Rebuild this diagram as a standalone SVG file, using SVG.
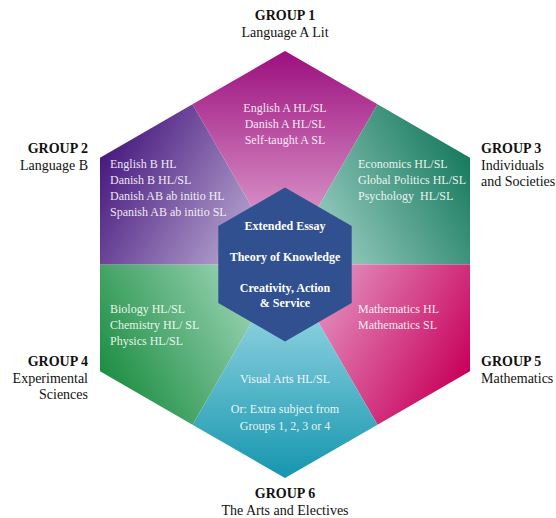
<svg xmlns="http://www.w3.org/2000/svg" width="556" height="518" viewBox="0 0 556 518">
<style>
.lbl{font-family:"Liberation Serif","Times New Roman",serif;font-size:14px;fill:#111}
.lblb{font-family:"Liberation Serif","Times New Roman",serif;font-size:14px;font-weight:bold;fill:#111}
.itm{font-family:"Liberation Serif","Times New Roman",serif;font-size:12px;fill:#fff;fill-opacity:0.9}
.core{font-family:"Liberation Serif","Times New Roman",serif;font-size:12px;font-weight:bold;fill:#fff}
</style>
<defs>
<linearGradient id="g1" gradientUnits="userSpaceOnUse" x1="285" y1="51" x2="285" y2="264.5"><stop offset="0" stop-color="#9c0f7e"/><stop offset="1" stop-color="#eab8dc"/></linearGradient>
<linearGradient id="g2" gradientUnits="userSpaceOnUse" x1="100" y1="157.7" x2="285" y2="264.5"><stop offset="0" stop-color="#48197f"/><stop offset="1" stop-color="#d0c6e2"/></linearGradient>
<linearGradient id="g3" gradientUnits="userSpaceOnUse" x1="470" y1="157.7" x2="285" y2="264.5"><stop offset="0" stop-color="#177a5e"/><stop offset="1" stop-color="#b8e0d8"/></linearGradient>
<linearGradient id="g4" gradientUnits="userSpaceOnUse" x1="100" y1="371.3" x2="285" y2="264.5"><stop offset="0" stop-color="#1d8e42"/><stop offset="1" stop-color="#b8e4d0"/></linearGradient>
<linearGradient id="g5" gradientUnits="userSpaceOnUse" x1="470" y1="371.3" x2="285" y2="264.5"><stop offset="0" stop-color="#c8005a"/><stop offset="1" stop-color="#eab4d8"/></linearGradient>
<linearGradient id="g6" gradientUnits="userSpaceOnUse" x1="285" y1="478" x2="285" y2="264.5"><stop offset="0" stop-color="#1596ae"/><stop offset="1" stop-color="#b0e2ee"/></linearGradient>
</defs>
<g id="group1">
<polygon points="285,264.5 192.5,104.3 285,50.9 377.5,104.3" fill="url(#g1)"/>
<text class="itm" text-anchor="middle" x="285" y="112">English A HL/SL</text>
<text class="itm" text-anchor="middle" x="285" y="128">Danish A HL/SL</text>
<text class="itm" text-anchor="middle" x="285" y="144">Self-taught A SL</text>
<text class="lblb" text-anchor="middle" x="285" y="20">GROUP 1</text>
<text class="lbl" text-anchor="middle" x="285" y="37">Language A Lit</text>
</g>
<g id="group3">
<polygon points="285,264.5 377.5,104.3 470,157.7 470,264.5" fill="url(#g3)"/>
<text class="itm" x="358" y="168">Economics HL/SL</text>
<text class="itm" x="358" y="184">Global Politics HL/SL</text>
<text class="itm" x="358" y="200" xml:space="preserve" style="white-space:pre">Psychology  HL/SL</text>
<text class="lblb" x="481" y="153">GROUP 3</text>
<text class="lbl" x="481" y="170">Individuals</text>
<text class="lbl" x="481" y="186">and Societies</text>
</g>
<g id="group5">
<polygon points="285,264.5 470,264.5 470,371.3 377.5,424.7" fill="url(#g5)"/>
<text class="itm" x="358" y="313">Mathematics HL</text>
<text class="itm" x="358" y="329">Mathematics SL</text>
<text class="lblb" x="481" y="366">GROUP 5</text>
<text class="lbl" x="481" y="383">Mathematics</text>
</g>
<g id="group6">
<polygon points="285,264.5 377.5,424.7 285,478.1 192.5,424.7" fill="url(#g6)"/>
<text class="itm" text-anchor="middle" x="285" y="383">Visual Arts HL/SL</text>
<text class="itm" text-anchor="middle" x="285" y="413">Or: Extra subject from</text>
<text class="itm" text-anchor="middle" x="285" y="430">Groups 1, 2, 3 or 4</text>
<text class="lblb" text-anchor="middle" x="285" y="498">GROUP 6</text>
<text class="lbl" text-anchor="middle" x="285" y="515">The Arts and Electives</text>
</g>
<g id="group4">
<polygon points="285,264.5 192.5,424.7 100,371.3 100,264.5" fill="url(#g4)"/>
<text class="itm" x="110" y="313">Biology HL/SL</text>
<text class="itm" x="110" y="329">Chemistry HL/ SL</text>
<text class="itm" x="110" y="345">Physics HL/SL</text>
<text class="lblb" text-anchor="end" x="88" y="366">GROUP 4</text>
<text class="lbl" text-anchor="end" x="88" y="383">Experimental</text>
<text class="lbl" text-anchor="end" x="88" y="399">Sciences</text>
</g>
<g id="group2">
<polygon points="285,264.5 100,264.5 100,157.7 192.5,104.3" fill="url(#g2)"/>
<text class="itm" x="110" y="168">English B HL</text>
<text class="itm" x="110" y="184">Danish B HL/SL</text>
<text class="itm" x="110" y="200">Danish AB ab initio HL</text>
<text class="itm" x="110" y="216">Spanish AB ab initio SL</text>
<text class="lblb" text-anchor="end" x="88" y="153">GROUP 2</text>
<text class="lbl" text-anchor="end" x="88" y="170">Language B</text>
</g>
<g id="core">
<polygon points="285,187.5 351.7,226 351.7,303 285,341.5 218.3,303 218.3,226" fill="#30508f"/>
<text class="core" text-anchor="middle" x="285" y="230">Extended Essay</text>
<text class="core" text-anchor="middle" x="285" y="261">Theory of Knowledge</text>
<text class="core" text-anchor="middle" x="285" y="292">Creativity, Action</text>
<text class="core" text-anchor="middle" x="285" y="307">&amp; Service</text>
</g>
<g id="connectors"/>
</svg>
